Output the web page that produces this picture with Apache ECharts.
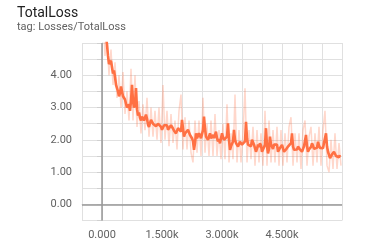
<!DOCTYPE html>
<html>
<head>
<meta charset="utf-8">
<script src="https://cdn.jsdelivr.net/npm/echarts@6/dist/echarts.min.js"></script>
<style>
html,body{margin:0;padding:0;background:#fff;}
#c{width:367px;height:248px;}
</style>
</head>
<body>
<div id="c"></div>
<script>
// ---- data ----
const titleText = 'TotalLoss';
const tagText = 'tag: Losses/TotalLoss';
const xTickLabels = {0: '0.000', 1500: '1.500k', 3000: '3.000k', 4500: '4.500k'};
const yTickLabels = {0: '0.00', 1: '1.00', 2: '2.00', 3: '3.00', 4: '4.00'};

// smoothed values, logged every 50 steps starting at step 50
const smoothFirstStep = 50, smoothEvery = 50;
const smoothed = [
 5.6,5.2,4.6,4.4,4.25,4.15,3.7,3.5,3.45,3.6,
 3.3,3.12,3.05,2.9,3.7,3.0,3.6,2.75,2.68,2.72,
 2.6,2.78,2.47,2.52,2.58,2.45,2.42,2.5,2.45,2.31,
 2.45,2.5,2.31,2.35,2.41,2.28,2.2,2.36,2.3,2.62,
 2.1,2.25,2.31,2.15,2.05,1.69,2.2,2.1,2.15,2.05,
 2.72,2.1,2.0,2.2,2.1,2.05,2.25,1.95,1.89,2.2,
 2.0,1.94,2.51,1.69,1.85,2.31,1.9,1.79,1.94,1.85,
 1.79,2.56,1.85,1.79,2.0,1.85,1.63,1.85,1.89,1.63,
 1.75,2.36,1.58,2.1,1.79,1.85,1.89,1.63,1.75,1.84,
 1.63,1.7,1.79,1.85,2.2,1.69,1.75,1.79,1.7,1.63,
 1.8,2.15,1.63,1.75,1.89,1.72,1.69,1.94,1.75,1.69,
 1.9,2.2,1.63,1.43,1.55,1.63,1.5,1.48,1.53
];
// smoothed values at the in-between steps (75, 125, ...)
const smoothedMidFirstStep = 75;
const smoothedMid = [
 5.3,4.95,4.35,4.45,4.05,3.95,3.75,3.35,3.65,3.35,
 3.25,3.0,3.1,3.2,3.2,3.1,2.95,2.85,2.6,2.75,
 2.55,2.65,2.4,2.62,2.5,2.55,2.38,2.56,2.4,2.38,
 2.4,2.45,2.25,2.45,2.35,2.3,2.22,2.4,2.25,2.35,
 2.2,2.18,2.25,2.2,1.95,1.9,2.05,2.2,2.05,2.3,
 2.35,2.12,1.98,2.05,2.15,2.0,2.05,2.02,1.95,2.08,
 2.05,2.1,2.0,1.8,1.95,2.0,1.95,1.75,1.95,1.9,
 1.95,2.05,1.9,1.8,1.95,1.8,1.72,1.78,1.82,1.7,
 1.85,1.8,1.72,1.85,1.72,1.8,1.85,1.66,1.7,1.78,
 1.68,1.74,1.74,1.9,1.8,1.74,1.7,1.76,1.72,1.66,
 1.85,1.8,1.7,1.78,1.82,1.76,1.75,1.82,1.78,1.74,
 1.85,1.8,1.58,1.48,1.6,1.58,1.55,1.46
];

// raw values, logged every 50 steps starting at step 25
const rawFirstStep = 25, rawEvery = 50;
const raw = [
 6.0,4.6,5.2,4.0,4.8,3.7,4.4,3.3,4.0,3.0,
 4.1,2.8,3.5,2.6,4.2,2.6,4.0,2.4,3.2,2.2,
 3.1,2.3,3.3,2.1,3.0,2.1,2.9,2.0,3.0,1.9,
 3.7,2.0,2.9,1.8,2.8,1.9,2.6,1.7,2.9,3.4,
 1.7,2.7,1.7,2.6,1.6,1.3,2.6,1.6,2.6,1.5,
 3.3,1.6,2.5,1.5,2.6,1.5,2.8,1.5,2.3,1.4,
 2.5,1.4,3.1,1.3,2.2,1.4,3.4,1.3,2.3,1.3,
 2.2,3.6,1.3,2.3,1.4,2.4,1.2,2.3,1.3,2.2,
 1.2,2.9,1.2,2.6,1.3,2.3,1.3,2.4,1.2,2.3,
 1.2,2.2,1.3,2.4,2.7,1.2,2.2,1.3,2.2,1.1,
 2.3,2.6,1.2,2.1,2.4,1.2,2.2,1.3,2.4,1.2,
 2.3,2.9,1.2,1.0,2.0,1.1,2.2,1.1,1.9,1.2
];

const smoothPairs = smoothed.map((v, i) => [smoothFirstStep + i * smoothEvery, v])
  .concat(smoothedMid.map((v, i) => [smoothedMidFirstStep + i * smoothEvery, v]))
  .sort((a, b) => a[0] - b[0]);
const rawPairs = raw.map((v, i) => [rawFirstStep + i * rawEvery, v]);

const chart = echarts.init(document.getElementById('c'), null, {renderer: 'canvas'});
const font = 'Roboto, "Noto Sans", sans-serif';
chart.setOption({
  animation: false,
  title: {
    text: titleText,
    subtext: tagText,
    left: 12, top: 1,
    itemGap: 2,
    textStyle: {fontSize: 14, fontWeight: 'normal', color: '#212121', fontFamily: font},
    subtextStyle: {fontSize: 11, color: '#616161', fontFamily: font}
  },
  grid: {left: 82, top: 43, width: 260, height: 177.5, containLabel: false},
  xAxis: {
    type: 'value', min: -500, max: 6000, interval: 500,
    axisLine: {show: true, lineStyle: {color: '#dcdcdc', width: 1}},
    axisTick: {show: true, length: 4, lineStyle: {color: '#dcdcdc'}},
    splitLine: {show: true, lineStyle: {color: '#e0e0e0', width: 1}},
    axisLabel: {
      interval: 0, margin: 9, fontSize: 11, color: '#616161', fontFamily: font,
      formatter: v => (xTickLabels[v] !== undefined ? xTickLabels[v] : '')
    }
  },
  yAxis: {
    type: 'value', min: -0.5, max: 5, interval: 0.5,
    axisLine: {show: true, lineStyle: {color: '#d0d0d0', width: 1}},
    axisTick: {show: true, length: 5, lineStyle: {color: '#d0d0d0'}},
    splitLine: {show: true, lineStyle: {color: '#e0e0e0', width: 1}},
    axisLabel: {
      margin: 10, fontSize: 11, color: '#616161', fontFamily: font,
      formatter: v => (yTickLabels[v] !== undefined ? yTickLabels[v] : '')
    }
  },
  series: [
    {
      type: 'line', data: [], silent: true, z: 1,
      markLine: {
        silent: true, symbol: 'none', label: {show: false},
        lineStyle: {color: '#999999', width: 1.5, type: 'solid'},
        data: [{xAxis: 0}, {yAxis: 0}]
      }
    },
    {
      type: 'line', data: rawPairs, showSymbol: false, z: 2, clip: true,
      lineStyle: {color: '#ff7043', width: 1.5, opacity: 0.28}
    },
    {
      type: 'line', data: smoothPairs, showSymbol: false, z: 3, clip: true,
      lineStyle: {color: '#ff7043', width: 2.6}
    }
  ]
});
</script>
</body>
</html>
